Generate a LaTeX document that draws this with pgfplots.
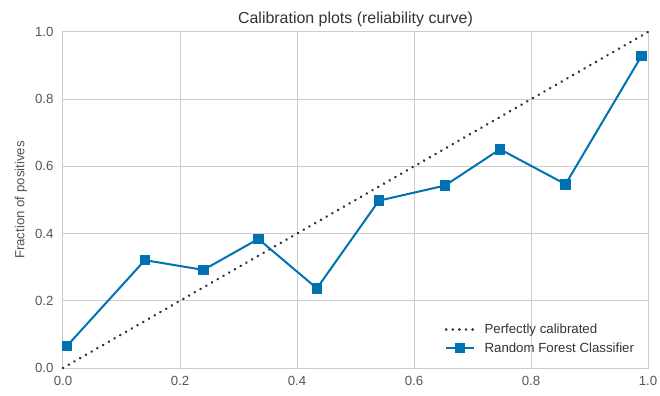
\documentclass[border=0pt]{standalone}
\usepackage{pgfplots}
\pgfplotsset{compat=1.18}
\usepackage{fontspec}
\setmainfont{Liberation Sans}
\definecolor{rfblue}{HTML}{0072B2}
\definecolor{gridgray}{HTML}{CCCCCC}
\definecolor{ticktext}{HTML}{555555}
\definecolor{titletext}{HTML}{333333}
\definecolor{diagdots}{HTML}{2E2E2E}

\begin{document}
\begin{tikzpicture}
\begin{axis}[
  scale only axis,
  width=585bp, height=336bp,
  xmin=0, xmax=1, ymin=0, ymax=1,
  xtick={0,0.2,0.4,0.6,0.8,1.0},
  ytick={0,0.2,0.4,0.6,0.8,1.0},
  /pgf/number format/assume math mode=true,
  xticklabel style={yshift=-5bp, /pgf/number format/.cd, fixed, fixed zerofill, precision=1},
  yticklabel style={xshift=-6bp, /pgf/number format/.cd, fixed, fixed zerofill, precision=1},
  major tick length=0pt,
  tick style={draw=none},
  grid=major,
  grid style={gridgray, line width=1bp},
  axis line style={gridgray, line width=1bp},
  tick label style={font=\fontsize{13.3}{16}\selectfont, text=ticktext},
  title={Calibration plots (reliability curve)},
  title style={font=\fontsize{16}{19}\selectfont, text=titletext, yshift=-4bp},
  ylabel={Fraction of positives},
  ylabel style={font=\fontsize{13.3}{16}\selectfont, text=ticktext, yshift=1bp},
  clip=false,
  legend cell align=left,
  legend style={at={(0.985,0.03)}, anchor=south east, draw=none, fill=none,
    font=\fontsize{13.3}{16}\selectfont, text=titletext, row sep=4bp},
  legend image code/.code={%
    \draw[mark repeat=2, mark phase=2, #1]
      plot coordinates {(0bp,0bp) (14bp,0bp) (28bp,0bp)};
    \path (35bp,0bp);},
]
% reference diagonal
\addplot[diagdots, line width=2.8bp, line cap=round,
  dash pattern=on 0.01bp off 6.6bp] coordinates {(0,0) (1,1)};
\addlegendentry{Perfectly calibrated}

% observed fraction of positives per probability bin
\addplot[rfblue, line width=2bp, mark=square*, mark size=4.3bp,
  mark options={solid, fill=rfblue}] coordinates {
  (0.007,0.066) (0.140,0.321) (0.240,0.292) (0.334,0.384) (0.434,0.237)
  (0.540,0.498) (0.653,0.543) (0.747,0.651) (0.859,0.547) (0.989,0.929)
};
\addlegendentry{Random Forest Classifier}
\end{axis}
\pgfresetboundingbox
\path[use as bounding box]
  ([shift={(-63bp,-28bp)}]current axis.south west) rectangle
  ([shift={(12bp,32bp)}]current axis.north east);
\end{tikzpicture}
\end{document}
